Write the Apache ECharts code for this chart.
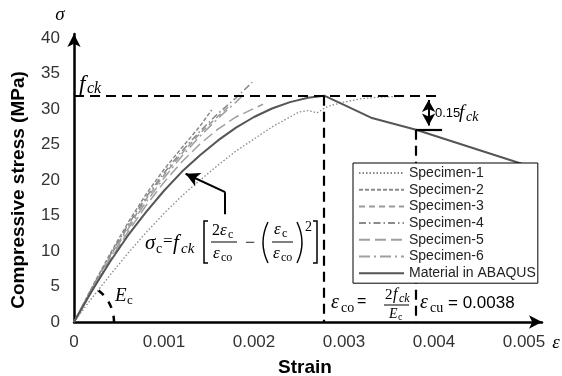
<!DOCTYPE html>
<html>
<head>
<meta charset="utf-8">
<script src="https://cdn.jsdelivr.net/npm/echarts@6.0.0/dist/echarts.min.js"></script>
<style>
  html, body { margin: 0; padding: 0; background: #fff; }
  #chart { width: 562px; height: 376px; }
</style>
</head>
<body>
<div id="chart"></div>
<script>
// material parameters
const fck = 31.9
const epsCo = 0.00278
const epsCu = 0.0038
const sigCu = 27.1

const legendNames = ['Specimen-1', 'Specimen-2', 'Specimen-3', 'Specimen-4', 'Specimen-5', 'Specimen-6', 'Material in ABAQUS']

// [strain, stress (MPa)]
const spec1 = [[0, 0], [0.0002, 3.4], [0.0004, 6.6], [0.0006, 9.7], [0.0008, 12.6], [0.001, 15.3], [0.0012, 17.8], [0.0014, 20.0], [0.0016, 22.1], [0.0018, 24.1], [0.002, 25.8], [0.0022, 27.5], [0.0024, 28.9], [0.0025, 29.6], [0.0026, 29.8], [0.0027, 29.5], [0.00282, 30.4], [0.003, 31.0], [0.0032, 31.5], [0.0034, 31.7], [0.0036, 31.8], [0.00368, 32.0]]
const spec2 = [[0, 0], [0.0002, 4.9], [0.0004, 9.6], [0.0006, 14.0], [0.0008, 18.0], [0.001, 21.5], [0.0012, 24.6], [0.0014, 27.6], [0.00153, 29.9]]
const spec3 = [[0, 0], [0.0002, 4.7], [0.0004, 9.2], [0.0006, 13.4], [0.0008, 17.3], [0.001, 20.7], [0.0012, 23.8], [0.0014, 26.6], [0.0016, 29.0], [0.00173, 30.5]]
const spec4 = [[0, 0], [0.0002, 4.8], [0.0004, 9.4], [0.0006, 13.7], [0.0008, 17.6], [0.001, 21.0], [0.0012, 24.1], [0.0014, 26.9], [0.0016, 29.4], [0.0018, 31.6], [0.00198, 33.8]]
const spec5 = [[0, 0], [0.0002, 4.4], [0.0004, 8.7], [0.0006, 12.7], [0.0008, 16.4], [0.001, 19.7], [0.0012, 22.6], [0.0014, 25.1], [0.0016, 27.2], [0.0018, 28.9], [0.002, 30.1], [0.0021, 30.7]]
const spec6 = [[0, 0], [0.0002, 4.6], [0.0004, 9.0], [0.0006, 13.1], [0.0008, 16.9], [0.001, 20.3], [0.0012, 23.4], [0.0014, 26.2], [0.0016, 28.7], [0.0018, 31.0], [0.00188, 32.0]]
const abaqus = [[0, 0], [0.0002, 4.4], [0.0004, 8.5], [0.0006, 12.2], [0.0008, 15.5], [0.001, 18.5], [0.0012, 21.2], [0.0014, 23.5], [0.0016, 25.6], [0.0018, 27.4], [0.002, 28.9], [0.0022, 30.1], [0.0024, 31.0], [0.0026, 31.6], [0.00278, 31.9], [0.003, 30.6], [0.0033, 28.8], [0.0038, 27.1], [0.005, 22.2]]

const chart = echarts.init(document.getElementById('chart'))

const sans = '"Liberation Sans", Arial, sans-serif'
const serif = '"Liberation Serif", "Times New Roman", serif'

function specSeries(name, data, color, dash, width) {
  return {
    name: name,
    type: 'line',
    data: data,
    symbol: 'none',
    itemStyle: { color: color },
    lineStyle: { color: color, width: width || 1.5, type: dash },
    z: 3
  }
}

const black = { color: '#000', width: 2.2, type: [10, 6] }

chart.setOption({
  animation: false,
  grid: { left: 74, right: 20, top: 34, bottom: 54 },
  legend: {
    data: legendNames,
    orient: 'vertical',
    left: 353,
    top: 163,
    padding: [3, 2, 3, 5],
    itemWidth: 45,
    itemHeight: 10,
    itemGap: 2.7,
    backgroundColor: '#fff',
    borderColor: '#000',
    borderWidth: 1,
    itemStyle: { opacity: 0 },
    textStyle: { fontFamily: sans, fontSize: 14, color: '#222' },
    z: 10
  },
  xAxis: {
    type: 'value',
    min: 0,
    max: 0.0052,
    interval: 0.001,
    splitLine: { show: false },
    axisTick: { show: false },
    axisLine: { symbol: ['none', 'arrow'], symbolSize: [10, 13], lineStyle: { color: '#000', width: 2.5 } },
    axisLabel: { showMaxLabel: false, margin: 12, fontFamily: sans, fontSize: 17, color: '#333' }
  },
  yAxis: {
    type: 'value',
    min: 0,
    max: 40.6,
    interval: 5,
    splitLine: { show: false },
    axisTick: { show: false },
    axisLine: { symbol: ['none', 'arrow'], symbolSize: [10, 13], lineStyle: { color: '#000', width: 2.5 } },
    axisLabel: { showMaxLabel: false, margin: 14, fontFamily: sans, fontSize: 17, color: '#333' }
  },
  series: [
    specSeries('Specimen-1', spec1, '#888', [1.5, 2], 1.3),
    specSeries('Specimen-2', spec2, '#8a8a8a', [4, 2]),
    specSeries('Specimen-3', spec3, '#9a9a9a', [6, 4]),
    specSeries('Specimen-4', spec4, '#8a8a8a', [7, 3, 1.5, 3]),
    specSeries('Specimen-5', spec5, '#a0a0a0', [11, 5]),
    specSeries('Specimen-6', spec6, '#a0a0a0', [11, 4, 2, 4]),
    {
      name: 'Material in ABAQUS',
      type: 'line',
      data: abaqus,
      symbol: 'none',
      itemStyle: { color: '#555' },
      lineStyle: { color: '#555', width: 2 },
      z: 4
    },
    {
      // reference lines of the sketch
      name: 'guides',
      type: 'line',
      data: [],
      z: 2,
      markLine: {
        silent: true,
        label: { show: false },
        symbol: 'none',
        data: [
          [{ coord: [0, fck], lineStyle: black }, { coord: [0.00408, fck] }],
          [{ coord: [epsCo, fck], lineStyle: black }, { coord: [epsCo, 0] }],
          [{ coord: [epsCu, sigCu], lineStyle: black }, { coord: [epsCu, 0] }],
          [{ coord: [epsCu, sigCu], lineStyle: { color: '#000', width: 2.2, type: 'solid' } }, { coord: [0.00409, sigCu] }],
          [{ coord: [0.00394, fck - 0.6], symbol: 'arrow', symbolSize: [10, 12], lineStyle: { color: '#000', width: 2, type: 'solid' } },
           { coord: [0.00394, sigCu + 0.6], symbol: 'arrow', symbolSize: [10, 12] }],
          [{ coord: [0.00168, 15.2], symbol: 'none', lineStyle: { color: '#000', width: 2, type: 'solid' } }, { coord: [0.00168, 18.3], symbol: 'none' }],
          [{ coord: [0.00168, 18.3], symbol: 'none', lineStyle: { color: '#000', width: 2, type: 'solid' } }, { coord: [0.00124, 20.9], symbol: 'arrow', symbolSize: [11, 14] }]
        ]
      }
    }
  ]
})

function txt(x, y, s, font, align) {
  return { type: 'text', x: x, y: y, silent: true, z: 20,
    style: { text: s, font: font, fill: '#000', align: align || 'left', verticalAlign: 'middle' } }
}
function poly(points, w) {
  return { type: 'polyline', silent: true, z: 20, shape: { points: points }, style: { stroke: '#000', lineWidth: w || 1.5, fill: null } }
}
function paren(x, cx) {
  return { type: 'bezierCurve', silent: true, z: 20,
    shape: { x1: x, y1: 222, x2: x, y2: 263, cpx1: cx, cpy1: 242.5 },
    style: { stroke: '#000', lineWidth: 1.4, fill: null } }
}

const it = function (px) { return 'italic ' + px + 'px ' + serif }
const rm = function (px) { return px + 'px ' + serif }

const origin = chart.convertToPixel({ gridIndex: 0 }, [0, 0])

const graphics = [
  // axis titles
  txt(305, 368, 'Strain', 'bold 19px ' + sans, 'center'),
  { type: 'text', x: 19, y: 190, rotation: Math.PI / 2, silent: true,
    style: { text: 'Compressive stress (MPa)', font: 'bold 19px ' + sans, fill: '#000', align: 'center', verticalAlign: 'middle' } },
  txt(60, 15, 'σ', it(19), 'center'),
  txt(556, 343, 'ε', it(19), 'center'),
  // f_ck
  txt(79, 85, 'f', it(23)),
  txt(87, 89, 'ck', it(16)),
  // 0.15 f_ck
  txt(435, 113, '0.15', '13px ' + sans),
  txt(459, 113, 'f', it(19)),
  txt(466, 117, 'ck', it(14)),
  // E_c
  txt(115, 296, 'E', it(19)),
  txt(127, 301, 'c', rm(13)),
  // stress-strain formula
  txt(145, 243, 'σ', it(21)),
  txt(156, 249, 'c', rm(14)),
  txt(163, 242, '=', rm(17)),
  txt(173, 243, 'f', it(21)),
  txt(181, 249, 'ck', it(15)),
  poly([[208, 221], [204, 221], [204, 263], [208, 263]]),
  txt(212, 231, '2', rm(16)),
  txt(220, 231, 'ε', it(17)),
  txt(228, 235, 'c', rm(12)),
  poly([[211, 242], [237, 242]], 1),
  txt(213, 254, 'ε', it(17)),
  txt(221, 258, 'co', rm(12)),
  txt(250, 243, '−', rm(18), 'center'),
  paren(268, 258),
  txt(274, 230, 'ε', it(17)),
  txt(282, 234, 'c', rm(12)),
  poly([[272, 242], [293, 242]], 1),
  txt(273, 254, 'ε', it(17)),
  txt(281, 258, 'co', rm(12)),
  paren(297, 307),
  txt(305, 227, '2', rm(14)),
  poly([[313, 221], [317, 221], [317, 263], [313, 263]]),
  // eps_co = 2 f_ck / E_c
  txt(331, 303, 'ε', it(20)),
  txt(341, 308, 'co', rm(14)),
  txt(357, 302, '=', '16px ' + sans),
  txt(385, 295, '2', rm(15)),
  txt(393, 295, 'f', it(16)),
  txt(399, 299, 'ck', it(12)),
  poly([[384, 305], [409, 305]], 1),
  txt(389, 314, 'E', it(14)),
  txt(398, 317, 'c', rm(10)),
  // eps_cu = 0.0038
  txt(420, 303, 'ε', it(20)),
  txt(430, 308, 'cu', rm(14)),
  txt(448, 303, '= 0.0038', '17px ' + sans),
  // E_c arc
  { type: 'arc', silent: true, z: 20,
    shape: { cx: origin[0], cy: origin[1], r: 40, startAngle: -Math.PI * 0.29, endAngle: 0, clockwise: true },
    style: { stroke: '#000', lineWidth: 2.5, fill: null, lineDash: [7, 8] } }
]

chart.setOption({ graphic: graphics })
</script>
</body>
</html>
